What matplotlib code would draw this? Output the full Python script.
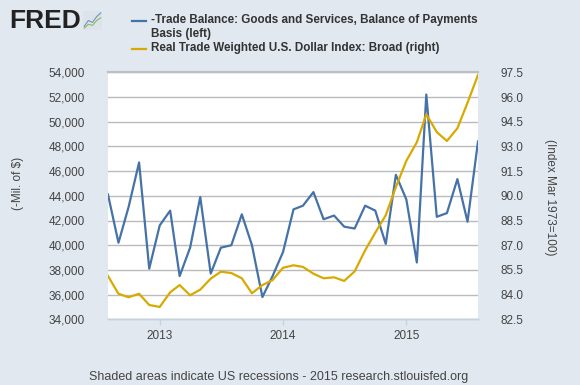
import matplotlib
matplotlib.use("Agg")
import matplotlib.pyplot as plt
import matplotlib.dates as mdates
import matplotlib.ticker as mticker
import pandas as pd

# monthly data, Aug 2012 - Aug 2015
dates = pd.date_range("2012-08-01", "2015-08-01", freq="MS")

trade_balance = [44100, 40200, 43100, 46700, 38100, 41600, 42800, 37500, 39800, 43900,
                 37700, 39800, 40000, 42500, 40000, 35800, 37500, 39450, 42900, 43200,
                 44300, 42100, 42400, 41500, 41350, 43200, 42800, 40100, 45700, 43700,
                 38600, 52200, 42300, 42600, 45350, 41900, 48400]

dollar_index = [85.13, 84.05, 83.84, 84.05, 83.37, 83.25, 84.14, 84.58, 83.96, 84.30,
                84.97, 85.39, 85.31, 84.99, 84.08, 84.58, 84.88, 85.63, 85.78, 85.68,
                85.27, 84.99, 85.05, 84.83, 85.41, 86.69, 87.76, 88.82, 90.53, 92.13,
                93.25, 94.95, 93.87, 93.33, 94.10, 95.65, 97.34]

left_label = "(-Mil. of $)"
right_label = "(Index Mar 1973=100)"
series_names = ["-Trade Balance: Goods and Services, Balance of Payments\nBasis (left)",
                "Real Trade Weighted U.S. Dollar Index: Broad (right)"]
footer = "Shaded areas indicate US recessions - 2015 research.stlouisfed.org"

blue = "#4572a7"
gold = "#d8aa00"
bg = "#e1e8f0"
txt = "#444444"

plt.rcParams["font.family"] = ["Liberation Sans", "DejaVu Sans"]

fig = plt.figure(figsize=(5.8, 3.85), dpi=100, facecolor=bg)
ax = fig.add_axes([108 / 580, 1 - 319.3 / 385, 370 / 580, 247 / 385])
ax.set_facecolor("white")

ax.plot(dates, trade_balance, color=blue, lw=1.6, zorder=3)
ax.set_ylim(34000, 54000)
ax.yaxis.set_major_locator(mticker.MultipleLocator(2000))
ax.yaxis.set_major_formatter(mticker.FuncFormatter(lambda v, p: f"{int(v):,}"))
ax.grid(axis="y", color="#bbbbbb", lw=1)
ax.set_axisbelow(True)

ax2 = ax.twinx()
ax2.plot(dates, dollar_index, color=gold, lw=1.6, zorder=3)
ax2.set_ylim(82.5, 97.5)
ax2.yaxis.set_major_locator(mticker.MultipleLocator(1.5))
ax2.yaxis.set_major_formatter(mticker.FormatStrFormatter("%.1f"))

ax.set_xlim(pd.Timestamp("2012-08-01"), pd.Timestamp("2015-08-01"))
ax.xaxis.set_major_locator(mdates.YearLocator())
ax.xaxis.set_major_formatter(mdates.DateFormatter("%Y"))

for a in (ax, ax2):
    for s in ("left", "right"):
        a.spines[s].set_visible(False)
    a.spines["top"].set_color("#bcbfc4")
    a.spines["top"].set_linewidth(1.5)
    a.spines["bottom"].set_color("#c5d3e0")
    a.spines["bottom"].set_linewidth(1)

ax.tick_params(axis="y", length=0, pad=16.5, labelsize=8.5, labelcolor=txt)
ax2.tick_params(axis="y", length=0, pad=16.5, labelsize=8.5, labelcolor=txt)
ax.tick_params(axis="x", length=4, color="#c5d3e0", width=1, pad=4, labelsize=8.5, labelcolor=txt)

fig.text(18 / 580, 1 - 183 / 385, left_label, rotation=90, ha="center", va="center",
         fontsize=8.5, color=txt)
fig.text(550 / 580, 1 - 197 / 385, right_label, rotation=-90, ha="center", va="center",
         fontsize=8.5, color=txt)

# legend
for (y_line, y_text, name, c) in [(21, 13.5, series_names[0], blue), (49, 42.5, series_names[1], gold)]:
    fig.add_artist(plt.Line2D([132 / 580, 146 / 580], [1 - y_line / 385] * 2, color=c, lw=1.6))
    fig.text(151 / 580, 1 - y_text / 385, name, ha="left", va="top", fontsize=8.4,
             fontweight="bold", color="#333333", linespacing=1.3)

# FRED logo
fig.text(9 / 580, 1 - 21 / 385, "FRED", ha="left", va="center", fontsize=19,
         fontweight="bold", color="#222222")
logo = fig.add_axes([83 / 580, 1 - 30 / 385, 19 / 580, 19 / 385])
logo.set_facecolor("#dde3e8")
logo.plot([0, 1, 2, 3, 4], [1, 2.5, 2, 3.5, 4.5], color="#6d93c6", lw=0.8)
logo.plot([0, 1, 2, 3, 4], [0.5, 1.5, 1.2, 2.5, 3.2], color="#8dbb5a", lw=0.8)
logo.set_xlim(-0.3, 4.3)
logo.set_ylim(0, 5)
logo.set_xticks([])
logo.set_yticks([])
for s in logo.spines.values():
    s.set_visible(False)

fig.text(279 / 580, 1 - 377 / 385, footer, ha="center", va="center", fontsize=9, color=txt)

fig.savefig("out.png", dpi=100, facecolor=bg)
